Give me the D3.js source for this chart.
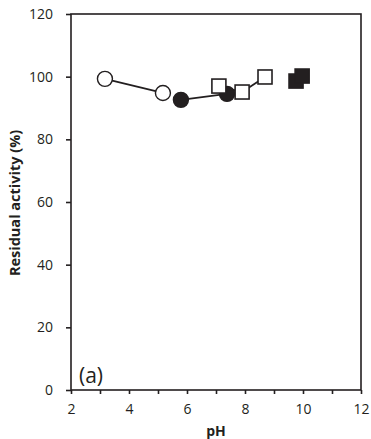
<!DOCTYPE html>
<html>
<head>
<meta charset="utf-8">
<script src="https://cdn.jsdelivr.net/npm/d3@7.9.0/dist/d3.min.js"></script>
<style>
  body { margin: 0; background: #fff; }
  text { font-family: "Open Sans", sans-serif; fill: #231f20; }
</style>
</head>
<body>
<svg width="371" height="439"></svg>
<script>
// data
const openCirclePH = [3.17, 5.17];
const openCircleAct = [99.3, 94.8];
const filledCirclePH = [5.79, 7.38];
const filledCircleAct = [92.6, 94.5];
const openSquarePH = [7.1, 7.9, 8.69];
const openSquareAct = [97.0, 95.1, 99.9];
const filledSquarePH = [9.76, 9.97];
const filledSquareAct = [98.6, 100.2];
const xTicks = [2, 4, 6, 8, 10, 12];
const yTicks = [0, 20, 40, 60, 80, 100, 120];

const ink = '#231f20';
const svg = d3.select('svg');
const x = d3.scaleLinear().domain([2, 12]).range([71, 361]);
const y = d3.scaleLinear().domain([0, 120]).range([390, 14]);

// box
svg.append('rect')
  .attr('x', x(2)).attr('y', y(120))
  .attr('width', x(12) - x(2)).attr('height', y(0) - y(120))
  .attr('fill', 'none').attr('stroke', ink).attr('stroke-width', 1.6);

const xAxis = svg.append('g')
  .attr('transform', `translate(0,${y(0)})`)
  .call(d3.axisBottom(x).tickValues(d3.range(2, 13, 1)).tickSize(4).tickFormat(d => xTicks.includes(d) ? d : ''));
xAxis.select('.domain').remove();
xAxis.selectAll('line').attr('stroke', ink).attr('stroke-width', 1.6);
xAxis.selectAll('text').attr('font-size', 14).attr('dy', '1.2em').attr('font-family', '"Open Sans", sans-serif').attr('fill', ink);

const yAxis = svg.append('g')
  .attr('transform', `translate(${x(2)},0)`)
  .call(d3.axisLeft(y).tickValues(yTicks).tickSize(5).tickPadding(13));
yAxis.select('.domain').remove();
yAxis.selectAll('line').attr('stroke', ink).attr('stroke-width', 1.6);
yAxis.selectAll('text').attr('font-size', 14).attr('font-family', '"Open Sans", sans-serif').attr('fill', ink);

// titles
svg.append('text')
  .attr('x', (x(2) + x(12)) / 2).attr('y', 436)
  .attr('text-anchor', 'middle').attr('font-size', 14).attr('font-weight', 'bold')
  .text('pH');
svg.append('text')
  .attr('transform', `translate(20,${(y(0) + y(120)) / 2 + 1}) rotate(-90)`)
  .attr('text-anchor', 'middle').attr('font-size', 14.5).attr('font-weight', 'bold')
  .text('Residual activity (%)');
svg.append('text')
  .attr('x', 79).attr('y', 383).attr('font-size', 21)
  .text('(a)');

const line = d3.line().x(d => x(d[0])).y(d => y(d[1]));

function series(ph, act, shape, filled) {
  const pts = ph.map((p, i) => [p, act[i]]);
  svg.append('path').attr('d', line(pts))
    .attr('fill', 'none').attr('stroke', ink).attr('stroke-width', 1.8);
  const g = svg.append('g');
  pts.forEach(p => {
    if (shape === 'circle') {
      g.append('circle').attr('cx', x(p[0])).attr('cy', y(p[1])).attr('r', 7.5)
        .attr('fill', filled ? ink : '#fff').attr('stroke', ink).attr('stroke-width', 1.4);
    } else {
      g.append('rect').attr('x', x(p[0]) - 7).attr('y', y(p[1]) - 7)
        .attr('width', 14).attr('height', 14)
        .attr('fill', filled ? ink : '#fff').attr('stroke', ink).attr('stroke-width', 1.6);
    }
  });
}

series(openCirclePH, openCircleAct, 'circle', false);
series(filledCirclePH, filledCircleAct, 'circle', true);
series(openSquarePH, openSquareAct, 'square', false);
series(filledSquarePH, filledSquareAct, 'square', true);
</script>
</body>
</html>
